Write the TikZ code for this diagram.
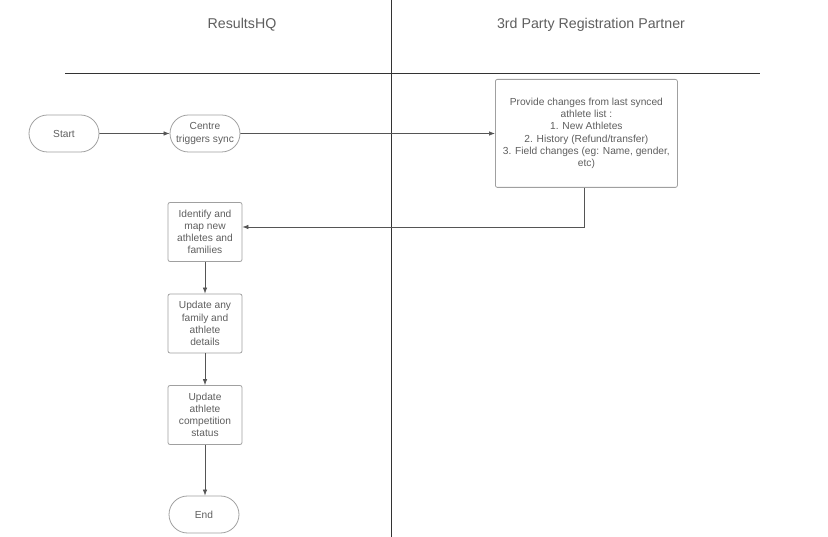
\documentclass[tikz,border=0pt]{standalone}
\usepackage{fontspec}
\setmainfont{Liberation Sans}
\usetikzlibrary{arrows.meta,shapes.misc}
\definecolor{txt}{HTML}{5E5E5E}
\definecolor{edge}{HTML}{555555}
\definecolor{bord}{HTML}{A0A0A0}
\begin{document}
\begin{tikzpicture}[x=1pt,y=-1pt,
  base/.style={draw=bord,line width=0.8pt,text=txt,font=\fontsize{10.2}{12.2}\selectfont,align=center,inner sep=2pt},
  term/.style={base,rounded rectangle,minimum width=74pt,minimum height=37pt},
  proc/.style={base,rectangle,rounded corners=2pt,minimum width=74pt,minimum height=59pt},
  big/.style={base,rectangle,rounded corners=2pt,minimum width=182pt,minimum height=108pt},
  lane/.style={text=txt,font=\fontsize{14.2}{16}\selectfont},
  conn/.style={draw=edge,line width=0.7pt,-{Latex[length=6pt,width=4.5pt]}},
  sep/.style={draw=black!80,line width=1pt}]
\useasboundingbox (0,0) rectangle (828,537);
\draw[sep] (391,0) -- (391,537);
\draw[sep] (65,74) -- (760,74);
\node[lane] (l1) at (242,25) {ResultsHQ};
\node[lane] (l2) at (591,25) {3rd Party Registration Partner};
\node[term] (start) at (64,133.5) {Start};
\node[term] (sync) at (205,133.5) {Centre\\triggers sync};
\node[big,anchor=north west] (prov) at (495,79) {Provide changes from last synced\\athlete list :\\1. New Athletes\\2. History (Refund/transfer)\\3. Field changes (eg: Name, gender,\\etc)};
\node[proc] (ident) at (205,232) {Identify and\\map new\\athletes and\\families};
\node[proc] (upd1) at (205,323.5) {Update any\\family and\\athlete\\details};
\node[proc] (upd2) at (205,415) {Update\\athlete\\competition\\status};
\node[term] (end) at (204,514.5) {End};
\coordinate (c1) at (584,227);
\draw[conn] (start) -- (sync);
\draw[conn] (sync) -- (prov.west |- sync);
\draw[conn] (prov.south -| c1) -- (c1) -- (ident.east |- c1);
\draw[conn] (ident) -- (upd1);
\draw[conn] (upd1) -- (upd2);
\draw[conn] (upd2) -- (upd2 |- end.north);
\end{tikzpicture}
\end{document}
